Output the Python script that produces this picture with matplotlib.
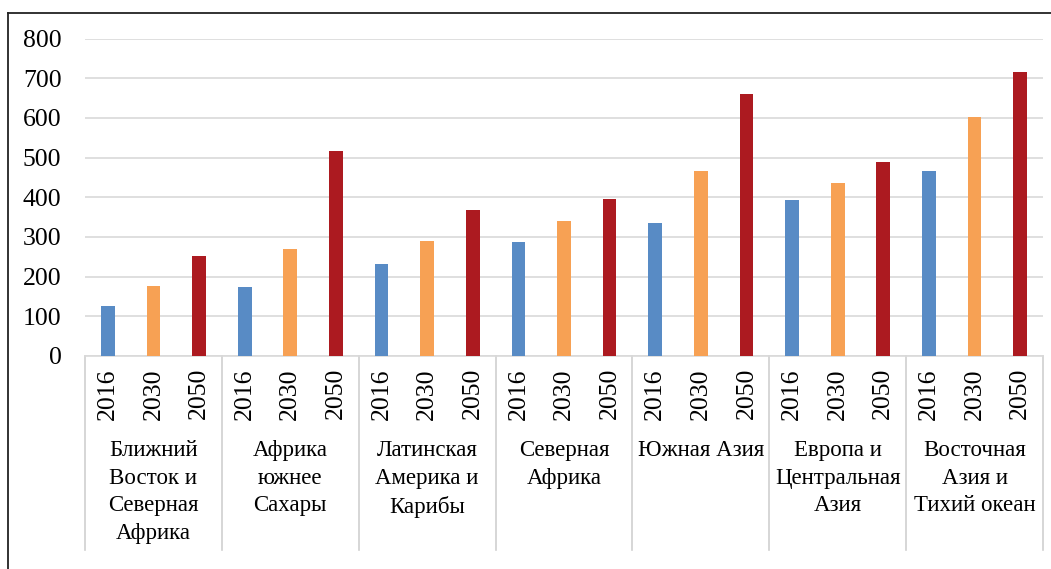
import matplotlib
matplotlib.use("Agg")
import matplotlib.pyplot as plt
from matplotlib.lines import Line2D
import numpy as np

regions = ["Ближний\nВосток и\nСеверная\nАфрика", "Африка\nюжнее\nСахары",
           "Латинская\nАмерика и\nКарибы", "Северная\nАфрика", "Южная Азия",
           "Европа и\nЦентральная\nАзия", "Восточная\nАзия и\nТихий океан"]
years = ["2016", "2030", "2050"]
v2016 = [127, 173, 231, 288, 334, 392, 467]
v2030 = [176, 269, 291, 340, 465, 437, 601]
v2050 = [253, 516, 368, 395, 661, 489, 715]
yticks = [0, 100, 200, 300, 400, 500, 600, 700, 800]
colors = ["#588BC5", "#F7A154", "#AC1A20"]

plt.rcParams['font.family'] = ['Liberation Serif', 'DejaVu Serif']

W, H = 1051, 569
fig = plt.figure(figsize=(W / 100, H / 100), dpi=100)
left, right, top, bottom = 85, 1043, 38.5, 356
ax = fig.add_axes([left / W, (H - bottom) / H, (right - left) / W, (bottom - top) / H])

series = [v2016, v2030, v2050]
n = len(regions)
for k, vals in enumerate(series):
    xs = np.arange(n) * 3 + k
    ax.bar(xs, vals, width=0.3, color=colors[k], zorder=3)

ax.set_xlim(-0.5, 3 * n - 0.5)
ax.set_ylim(0, 800)
ax.set_yticks(yticks)
ax.set_yticklabels([str(t) for t in yticks], fontsize=18.5)
ax.tick_params(axis='y', length=0, pad=17)
ax.set_xticks([])
ax.grid(axis='y', color='#D9D9D9', linewidth=1.2, zorder=0)
for s in ['top', 'right', 'left']:
    ax.spines[s].set_visible(False)
ax.spines['bottom'].set_color('#D9D9D9')
ax.spines['bottom'].set_linewidth(1.2)

ah = bottom - top
trans = ax.get_xaxis_transform()
def yfrac(py):
    return (bottom - py) / ah

for g in range(n):
    for k in range(3):
        ax.text(g * 3 + k, yfrac(368), years[k], rotation=90, ha='center', va='top',
                fontsize=18.5, transform=trans, clip_on=False)
    ax.text(g * 3 + 1, yfrac(440), regions[g], ha='center', va='top', fontsize=16.5,
            linespacing=1.41, transform=trans, clip_on=False)
for g in range(n + 1):
    ax.add_line(Line2D([g * 3 - 0.5, g * 3 - 0.5], [0, yfrac(550)], transform=trans,
                       color='#D0D0D0', linewidth=1.2, clip_on=False))

# outer frame
fig.add_artist(Line2D([8 / W, 8 / W], [0, 1 - 13 / H], color='#222222', linewidth=1.3))
fig.add_artist(Line2D([8 / W, 1], [1 - 13 / H, 1 - 13 / H], color='#222222', linewidth=1.3))

fig.savefig("out.png", dpi=100, facecolor='white')
